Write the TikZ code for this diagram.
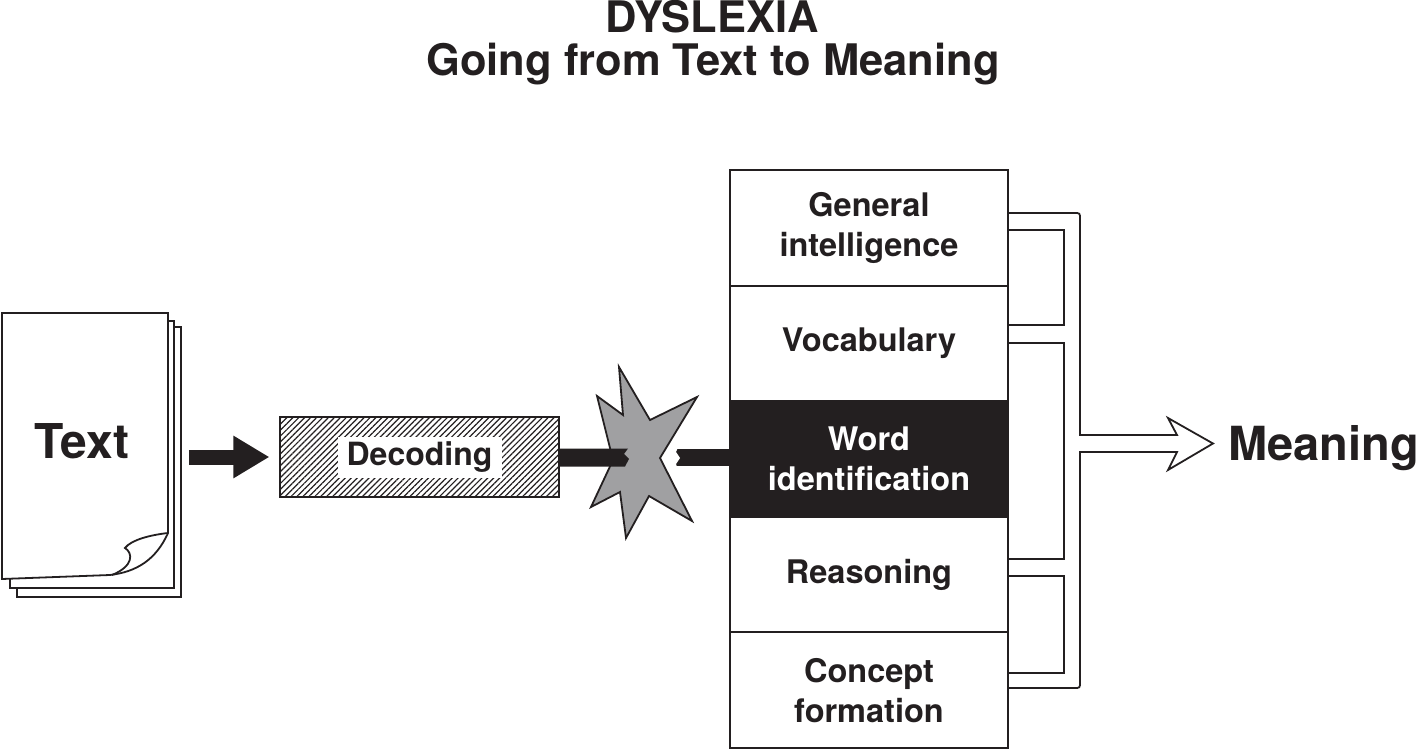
\documentclass[tikz,border=0pt]{standalone}
\usepackage{fontspec}
\setmainfont{TeX Gyre Heros}
\usetikzlibrary{positioning, arrows.meta, patterns.meta}
\definecolor{ink}{HTML}{231F20}
\definecolor{burst}{HTML}{A0A0A2}

\begin{document}
\begin{tikzpicture}[x=1pt, y=-1pt]

\tikzset{layer/.style = {draw=ink, line width=2pt, fill=white, minimum width=278pt, minimum height=115.6pt, inner sep=0pt, outer sep=0pt, align=center, text=ink, font=\fontsize{32.5}{40}\selectfont\bfseries}}
\tikzset{sheet/.style = {draw=ink, line width=1.8pt, fill=white}}
\tikzset{word/.style = {inner sep=0pt, text=ink, font=\bfseries}}
\tikzset{pipe/.style = {draw=ink, line width=1.8pt}}

\useasboundingbox (0,0) rectangle (1422,752);

% title
\node[word, anchor=base, font=\fontsize{43.5}{49}\selectfont\bfseries] (title) at (712,33) {DYSLEXIA};
\node[word, anchor=base, font=\fontsize{43.5}{49}\selectfont\bfseries] (subtitle) at (713,76) {Going from Text to Meaning};

% pages
\node[sheet, minimum width=164pt, minimum height=270pt] (page3) at (99,462) {};
\node[sheet, minimum width=164pt, minimum height=267pt] (page2) at (92,454.5) {};
\draw[sheet] (2,313) -- (168,313) -- (168,533) .. controls (156,560) and (136,572) .. (110,575) -- (2,579) -- cycle;
\draw[sheet] (168,533) .. controls (150,535) and (131,540) .. (125,548) .. controls (133,553) and (134,566) .. (112,575);
\node[word, anchor=base, font=\fontsize{48}{50}\selectfont\bfseries] (text) at (82,458) {Text};

% decoding
\node[draw=ink, line width=1.8pt, pattern={Lines[angle=45, distance=4.2pt, line width=1.2pt]}, pattern color=ink, minimum width=279pt, minimum height=80pt] (decoding) at (419.5,457) {};
\node[fill=white, minimum width=164pt, minimum height=41pt, inner sep=0pt, text=ink, font=\fontsize{32}{36}\selectfont\bfseries] (declabel) at (decoding.center) {Decoding};

% column
\node[layer] (genint) at (869,227.8) {General\\intelligence};
\node[layer, below=0pt of genint] (vocab) {Vocabulary};
\node[layer, below=0pt of vocab, fill=ink, text=white] (wordid) {Word\\identification};
\node[layer, below=0pt of wordid] (reason) {Reasoning};
\node[layer, below=0pt of reason] (concept) {Concept\\formation};

\node[word, anchor=base west, font=\fontsize{47}{50}\selectfont\bfseries] (meaning) at (1228,460) {Meaning};

%edges
\draw[draw=ink, line width=15pt, -{Triangle[length=36pt, width=40pt]}, shorten <=7pt, shorten >=10pt] (page3.east |- decoding.west) -- (decoding.west);
\draw[draw=ink, line width=17pt] (decoding.east) -- (decoding.east -| wordid.west);
\fill[white] (654,445) -- (679,445) -- (676,452) -- (680,458) -- (676,464) -- (678,470) -- (654,470) -- cycle;
\filldraw[fill=burst, draw=ink, line width=1.8pt, line join=miter] (619,367) -- (650,420) -- (697,397) -- (660,458) -- (692,521) -- (649,496) -- (626,538) -- (620,492) -- (591,507) -- (613,460) -- (597,396) -- (623,415) -- cycle;
\fill[ink] (decoding.east |- 0,448.5) -- (628,448.5) -- (624,454) -- (629,459) -- (625,466.5) -- (decoding.east |- 0,466.5) -- cycle;

\draw[pipe, line join=miter] (genint.east |- 0,213) -- (1074,213) .. controls (1080,213) .. (1080,219) -- (1080,435) -- (1177,435) -- (1168,418) -- (1213,443.5) -- (1168,470) -- (1177,452) -- (1080,452) -- (1080,682) .. controls (1080,688) .. (1074,688) -- (concept.east |- 0,688);
\draw[pipe] (genint.east |- 0,230) -| (1064,325) -- (genint.east |- 0,325);
\draw[pipe] (vocab.east |- 0,343) -| (1064,559) -- (reason.east |- 0,559);
\draw[pipe] (reason.east |- 0,576) -| (1064,673) -- (concept.east |- 0,673);

\end{tikzpicture}
\end{document}
